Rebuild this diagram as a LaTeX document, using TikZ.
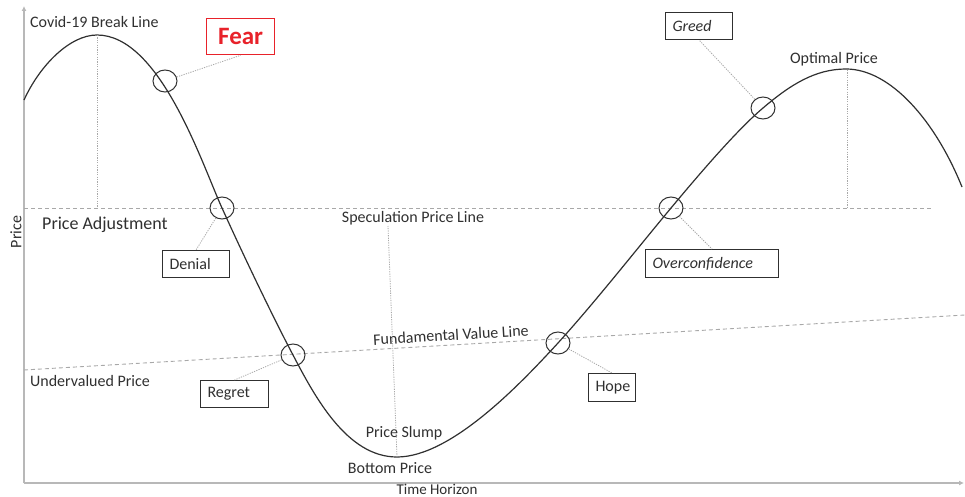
\documentclass[tikz,border=0pt]{standalone}
\usepackage{fontspec}
\setmainfont{Carlito}
\usetikzlibrary{shapes.geometric,arrows.meta}
\definecolor{ink}{HTML}{303030}
\definecolor{guide}{HTML}{A8A8A8}
\definecolor{axisgray}{HTML}{B8B8B8}
\definecolor{alarm}{HTML}{E8222A}
\tikzset{
  curveline/.style={draw=ink, line width=1.2pt},
  axisline/.style={draw=axisgray, line width=1.2pt, -{Latex[length=5pt,width=5pt]}},
  levelline/.style={draw=guide, line width=0.9pt, dash pattern=on 4pt off 3pt},
  dropline/.style={draw=guide, line width=0.8pt, dash pattern=on 1.2pt off 1.2pt},
  leader/.style={draw=guide, line width=0.8pt, dash pattern=on 1.2pt off 1.2pt},
  ring/.style={ellipse, draw=ink, line width=1pt, minimum width=24pt, minimum height=22pt, inner sep=0pt},
  tag/.style={draw=ink, line width=1pt, text=ink, font=\fontsize{16}{18}\selectfont,
              inner xsep=7pt, inner ysep=0pt, align=left, anchor=north west},
  lbl/.style={text=ink, font=\fontsize{16}{18}\selectfont, inner sep=0pt},
}
\begin{document}
\begin{tikzpicture}[x=1pt,y=-1pt]
\useasboundingbox (0,0) rectangle (965,497);
\fill[white] (0,0) rectangle (965,497);

% axes
\coordinate (O) at (24,483);
\coordinate (ytop) at (24,6);
\coordinate (xend) at (964,483);
\draw[axisline] (O) -- (ytop);
\draw[axisline] (O) -- (xend);

% reference levels
\coordinate (specL) at (24,208);
\coordinate (specR) at (932,208);
\coordinate (fundL) at (24,370);
\coordinate (fundR) at (965,315);
\draw[levelline] (specL) -- (specR);
\draw[levelline] (fundL) -- (fundR);

% turning points of the cycle
\coordinate (start) at (24,100);
\coordinate (peakA) at (97,35);
\coordinate (trough) at (397,457);
\coordinate (peakB) at (846,69);
\coordinate (finish) at (962,187);

% price cycle
\draw[curveline] (start)
  .. controls (40,65) and (70,35) .. (peakA)
  .. controls (160,35) and (202,164) .. (222,208)
  .. controls (246,261) and (275,321) .. (293,355)
  .. controls (315,397) and (347,457) .. (trough)
  .. controls (452,457) and (523,381) .. (558,343)
  .. controls (596,301) and (636,250) .. (671,208)
  .. controls (701,172) and (738,129) .. (763,108)
  .. controls (790,85) and (815,69) .. (peakB)
  .. controls (890,69) and (935,120) .. (finish);

% drop lines from the turning points
\coordinate (peakAfoot) at (97,208);
\coordinate (troughtop) at (388,226);
\coordinate (peakBtop) at (847,70);
\coordinate (peakBfoot) at (847,208);
\draw[dropline] (peakA) -- (peakAfoot);
\draw[dropline] (trough) -- (troughtop);
\draw[dropline] (peakBtop) -- (peakBfoot);

% emotion markers on the curve
\node[ring] (cFear)  at (165,81)  {};
\node[ring] (cDen)   at (222,208) {};
\node[ring] (cReg)   at (293,355) {};
\node[ring] (cHope)  at (558,343) {};
\node[ring] (cOver)  at (671,208) {};
\node[ring] (cGreed) at (763,108) {};

% emotion tags
\node[draw=alarm, line width=1.3pt, text=alarm, inner sep=0pt, anchor=north west,
      minimum width=68pt, minimum height=36pt,
      font=\fontsize{25}{28}\selectfont\bfseries] (bFear) at (206,18) {Fear};
\node[tag, text width=53pt, minimum height=27pt] (bDen) at (162,250) {Denial};
\node[tag, text width=54pt, minimum height=27pt] (bReg) at (200,380) {Regret};
\node[tag, text width=33pt, minimum height=28pt] (bHope) at (588,373) {Hope};
\node[tag, text width=119pt, minimum height=28pt, font=\fontsize{16}{18}\selectfont\itshape] (bOver) at (645,249) {Overconfidence};
\node[tag, text width=53pt, minimum height=27pt, font=\fontsize{16}{18}\selectfont\itshape] (bGreed) at (665,12) {Greed};

% leaders
\draw[leader] (cFear) -- (bFear.south);
\draw[leader] (cDen) -- (bDen.north);
\draw[leader] (cReg) -- (bReg.north);
\draw[leader] (cHope) -- (bHope.north);
\draw[leader] (cOver) -- (bOver.north);
\draw[leader] (cGreed) -- (bGreed.south);

% annotations
\node[lbl, anchor=west] (tCovid) at (30,22) {Covid-19 Break Line};
\node[lbl, anchor=west, font=\fontsize{18}{20}\selectfont] (tAdj) at (42,225) {Price Adjustment};
\node[lbl] (tSpec) at (413,218) {Speculation Price Line};
\node[lbl, rotate=3.4] (tFund) at (451,335) {Fundamental Value Line};
\node[lbl] (tSlump) at (404,433) {Price Slump};
\node[lbl] (tBottom) at (390,468) {Bottom Price};
\node[lbl] (tUnder) at (90,381) {Undervalued Price};
\node[lbl] (tOpt) at (834,59) {Optimal Price};
\node[lbl, anchor=base, font=\fontsize{15}{17}\selectfont] (tTime) at (437,494) {Time Horizon};
\node[lbl, rotate=90] (tPrice) at (16,232) {Price};
\end{tikzpicture}
\end{document}
